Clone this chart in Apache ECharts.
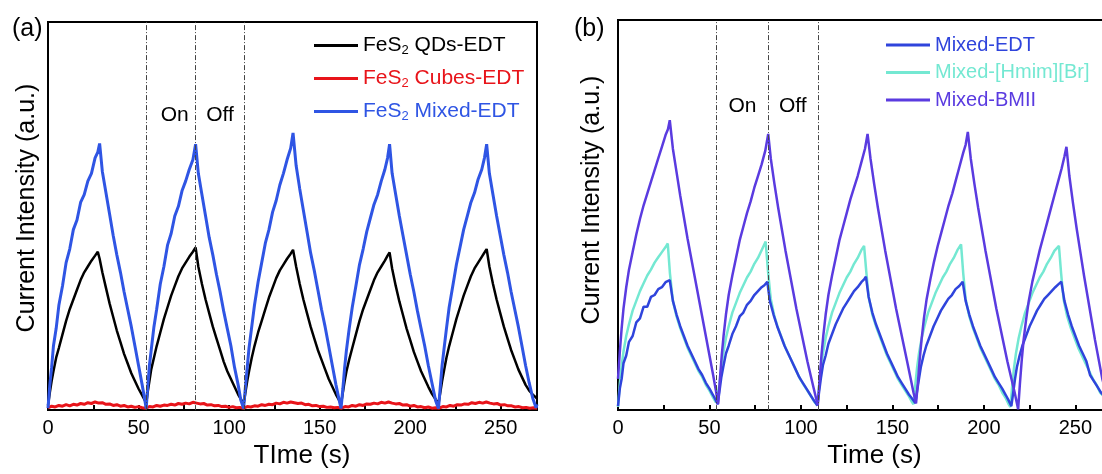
<!DOCTYPE html>
<html>
<head>
<meta charset="utf-8">
<script src="https://cdn.jsdelivr.net/npm/echarts@6/dist/echarts.min.js"></script>
<style>
  html, body { margin: 0; padding: 0; overflow: hidden; background: #fff; }
  #main { width: 1140px; height: 474px; }
</style>
</head>
<body>
<div id="main"></div>
<script>
// ---- panel (a): [time (s), current intensity (a.u.)] ----
var qdsA = [
  [0,1.2],[1,4.5],[2,7.5],[3,10],[4.5,13.5],[6,16],[8,19.5],[10,23],[12,26],[14,28.5],[16,31],[18,33.5],[20,35.5],[22,37],[24,38.5],[26,39.8],[27.5,40.8],[28.5,39],
  [30,35.5],[32,31.5],[34,27.5],[36,24],[38,20.5],[40,17.5],[42,14.5],[44,12],[46,9.5],[48,7.5],[50,5.5],[52,3.8],[53.5,2.5],[54.2,1.5],
  [55,4.5],[56,7.5],[57,10.5],[58.5,13.5],[60,16.5],[62,20],[64,23.5],[66,26.5],[68,29.5],[70,32],[72,34.5],[74,36.5],[76,38],[78,39.5],[80,40.8],[81.5,41.9],
  [83,37],[85,32.5],[87,28.5],[89,25],[91,21.5],[93,18.5],[95,15.5],[97,12.5],[99,10],[101,8],[103,6],[105,4],[106.5,2.8],[108,1.6],
  [109,4.5],[110,7.5],[111,10],[112.5,13.5],[114,16.5],[116,20],[118,23],[120,26],[122,29],[124,31.5],[126,34],[128,36],[130,37.5],[132,39],[134,40.3],[135.3,41.3],
  [137,37],[139,32.5],[141,28.5],[143,25],[145,21.5],[147,18.5],[149,15.5],[151,13],[153,10.5],[155,8],[157,6],[159,4],[160.8,2.5],[161.8,1.6],
  [162.8,4.5],[163.8,7.5],[164.8,10],[166.3,13],[168,16],[170,19.5],[172,23],[174,26],[176,28.5],[178,31],[180,33.5],[182,35.5],[184,37],[186,38.5],[187.5,39.8],[188.6,40.6],
  [190,36.5],[192,32],[194,28],[196,24.5],[198,21],[200,18],[202,15],[204,12.5],[206,10],[208,8],[210,6],[212,4.2],[214,2.8],[215.6,1.6],
  [216.6,4.5],[217.6,7.5],[218.6,10],[220,13.5],[221.5,16.5],[223.5,20],[225.5,23.5],[227.5,26.5],[229.5,29.5],[231.5,32],[233.5,34.5],[235.5,36.5],[237.5,38],[239.5,39.5],[241,40.6],[242.2,41.5],
  [243.7,37],[245.7,32.5],[247.7,28.5],[249.7,25],[251.7,21.5],[253.7,18.5],[255.7,15.5],[257.7,13],[259.7,10.5],[261.7,8.5],[263.7,6.5],[265.7,5],[267.7,4],[269.5,3.2],[270,3]
];
var cubesA = [
  [0,0.6],[2,1.0],[4,0.8],[6,1.2],[8,1.0],[10,1.4],[12,1.1],[14,1.5],[16,1.3],[18,1.7],[20,1.5],[22,1.9],[24,1.7],[26,2.1],[28,1.8],[30,1.9],[32,1.5],[34,1.6],[36,1.2],[38,1.4],[40,1.0],[42,1.2],[44,0.8],[46,1.0],[48,0.7],[50,0.9],[52,0.6],[54,0.5],
  [56,0.9],[58,0.8],[60,1.2],[62,1.0],[64,1.3],[66,1.2],[68,1.5],[70,1.3],[72,1.7],[74,1.5],[76,1.8],[78,1.6],[80,2.0],[82,1.8],[84,1.6],[86,1.7],[88,1.3],[90,1.4],[92,1.1],[94,1.2],[96,0.9],[98,1.0],[100,0.7],[102,0.9],[104,0.6],[106,0.7],[108,0.5],
  [110,0.9],[112,0.8],[114,1.1],[116,1.0],[118,1.4],[120,1.2],[122,1.5],[124,1.4],[126,1.8],[128,1.6],[130,2.0],[132,1.8],[134,2.1],[136,1.9],[138,1.7],[140,1.8],[142,1.4],[144,1.5],[146,1.1],[148,1.2],[150,0.9],[152,1.0],[154,0.7],[156,0.8],[158,0.6],[160,0.7],[162,0.5],
  [164,0.9],[166,0.8],[168,1.2],[170,1.0],[172,1.4],[174,1.2],[176,1.6],[178,1.5],[180,1.8],[182,1.6],[184,2.0],[186,1.8],[188,2.1],[190,1.8],[192,1.6],[194,1.7],[196,1.3],[198,1.4],[200,1.0],[202,1.2],[204,0.8],[206,0.9],[208,0.6],[210,0.8],[212,0.5],[214,0.6],[216,0.5],
  [218,0.9],[220,0.8],[222,1.2],[224,1.0],[226,1.4],[228,1.3],[230,1.6],[232,1.5],[234,1.9],[236,1.7],[238,2.0],[240,1.8],[242,2.1],[244,1.8],[246,1.6],[248,1.7],[250,1.3],[252,1.4],[254,1.1],[256,1.1],[258,0.8],[260,0.9],[262,0.6],[264,0.7],[266,0.5],[268,0.6],[270,0.5]
];
var mixedA = [
  [0,0.5],[1,6.5],[2,11],[3,16.5],[4.5,21],[6,27],[8,32],[10,38],[12,41.5],[14,46.5],[16,49],[18,53.5],[20,55.5],[22,59],[24,61],[26,65],[27.5,66.5],[28.5,68.7],
  [30,61.5],[32,56],[34,50.5],[36,45],[38,40],[40,35.5],[42,30.5],[44,26],[46,21.5],[48,16.5],[50,11.5],[52,6.5],[53.5,2.5],[54.2,0.4],
  [55,5.5],[56,11.5],[57,15.5],[58.5,21.5],[60,26],[62,32.5],[64,37],[66,42.5],[68,45.5],[70,50],[72,52.5],[74,56.5],[76,59],[78,62],[80,64.5],[81.5,68.5],
  [83,61],[85,55.5],[87,50],[89,44.5],[91,40],[93,35],[95,30.5],[97,25.5],[99,21],[101,16.5],[103,11],[105,6.5],[106.5,2.5],[108,0.4],
  [109,6],[110,11],[111,16],[112.5,21.5],[114,27],[116,33],[118,38],[120,43],[122,46.5],[124,51],[126,54],[128,58],[130,61],[132,64.5],[134,67.5],[135.3,71.4],
  [137,63],[139,57],[141,51.5],[143,46],[145,40.5],[147,36],[149,31],[151,26],[153,21.5],[155,16.5],[157,11.5],[159,6.5],[160.8,2.5],[161.8,0.4],
  [162.8,5.5],[163.8,11],[164.8,15.5],[166.3,21],[168,26.5],[170,32],[172,37.5],[174,41.5],[176,46],[178,49.5],[180,53],[182,55.5],[184,59],[186,62],[187.5,65],[188.6,68.5],
  [190,61],[192,55.5],[194,50],[196,45],[198,40],[200,35],[202,30.5],[204,25.5],[206,21],[208,16.5],[210,11.5],[212,7],[214,2.5],[215.6,0.4],
  [216.6,6],[217.6,11.5],[218.6,15.5],[220,21],[221.5,26.5],[223.5,32],[225.5,37.5],[227.5,42],[229.5,46.5],[231.5,50],[233.5,53.5],[235.5,56],[237.5,59.5],[239.5,62],[241,65],[242.2,68.5],
  [243.7,61],[245.7,55.5],[247.7,50],[249.7,45],[251.7,40],[253.7,35.5],[255.7,30.5],[257.7,26],[259.7,21.5],[261.7,16.5],[263.7,11.5],[265.7,7],[267.7,3],[269.5,0.6],[270,1.5]
];

// ---- panel (b) ----
var edtB = [
  [0,1],[1,5.5],[2,8],[3,12],[4.5,14],[6,17.5],[8,19],[10,22.5],[12,23.5],[14,26.5],[16,26.5],[18,29],[20,29.5],[22,31],[24,31.5],[26,32.8],[28.3,33.3],
  [30,28],[32,24.5],[34,21.5],[36,19],[38,16.5],[40,14.5],[42,12.5],[44,10.5],[46,9],[48,7],[50,5.5],[52,3.8],[53.5,2.5],[54.5,1.5],
  [55.5,5],[56.5,8.5],[57.5,11],[59,14.5],[60.5,16.5],[62.5,19.5],[64.5,21.5],[66.5,24],[68.5,25],[70.5,27],[72.5,28],[74.5,29.5],[76.5,30.5],[78.5,31.5],[80,32],[81.6,32.9],
  [83,28],[85,24.5],[87,21.5],[89,19],[91,16.5],[93,14.5],[95,12.5],[97,10.5],[99,8.5],[101,7],[103,5.5],[105,4],[107,2.5],[109,1.2],
  [110,5],[111,8.5],[112,11.5],[113.5,14],[115,17],[117,19.5],[119,22],[121,24],[123,26],[125,27.5],[127,29],[129,30.5],[131,31.5],[133,32.8],[134.5,33.5],[135.5,34.2],
  [137,29],[139,25],[141,22],[143,19.5],[145,17],[147,14.5],[149,12.5],[151,10.5],[153,8.5],[155,7],[157,5.5],[159,4],[161,2.8],[162.5,1.8],
  [163.5,5],[164.5,8],[165.5,11],[167,14],[168.5,16.5],[170.5,19],[172.5,21.5],[174.5,23.5],[176.5,25.5],[178.5,27],[180.5,28.5],[182.5,29.5],[184.5,31],[186.5,31.8],[188.4,32.9],
  [190,28],[192,24.5],[194,21.5],[196,19],[198,16.5],[200,14.5],[202,12.5],[204,10.5],[206,8.5],[208,7],[210,5.5],[212,3.8],[213.5,2.5],[215,1],
  [216,4.5],[217,8],[218,11],[219.5,14],[221,16.5],[223,19],[225,21.5],[227,23.5],[229,25.5],[231,27],[233,28.5],[235,29.5],[237,30.5],[239,31.5],[240.8,32.3],[242.3,32.9],
  [244,28],[246,24.5],[248,21.5],[250,19],[252,16.5],[254,14.5],[256,12.5],[258,9],[260,7.5],[262,6],[264,4.5],[266,3.5],[268,2.5],[270,1.5]
];
var hmimB = [
  [0,0.8],[1,7],[2,11.5],[3,15],[4.5,19],[6,22],[8,25.5],[10,28],[12,30.5],[14,32.5],[16,34.5],[18,36],[20,37.8],[22,39.2],[24,40.5],[26,41.8],[27.2,42.7],[28.4,35],
  [30,28],[32,24],[34,21],[36,18.5],[38,16],[40,14],[42,12],[44,10],[46,8.5],[48,6.5],[50,5],[52,3.2],[53.5,2],[54.5,1.5],
  [55.5,6.5],[56.5,11],[57.5,14.5],[59,18.5],[60.5,21.5],[62.5,25],[64.5,27.5],[66.5,30],[68.5,32],[70.5,34],[72.5,35.5],[74.5,37.5],[76.5,39],[78.5,41],[80.7,43.2],[82,35.5],
  [83.5,28.5],[85.5,24],[87.5,21],[89.5,18.5],[91.5,16],[93.5,14],[95.5,12],[97.5,10],[99.5,8],[101.5,6.5],[103.5,5],[105.5,3.5],[107.5,2],[109,1.2],
  [110,6.5],[111,11],[112,14.5],[113.5,18.5],[115,21.5],[117,25],[119,27.5],[121,30],[123,32],[125,34],[127,35.5],[129,37.5],[131,39],[133,41],[134.5,42.1],[135.7,35.5],
  [137,29],[139,24.5],[141,21.5],[143,19],[145,16.5],[147,14],[149,12],[151,10],[153,8],[155,6.5],[157,5],[159,3.5],[160.5,2.2],[161.5,1.5],
  [162.5,6.5],[163.5,11],[164.5,14.5],[166,18.5],[167.5,21.5],[169.5,25],[171.5,27.5],[173.5,30],[175.5,32],[177.5,34],[179.5,35.5],[181.5,37.5],[183.5,39],[185.5,41],[187.5,42.5],[188.7,35],
  [190,28.5],[192,24],[194,21],[196,18.5],[198,16],[200,14],[202,12],[204,10],[206,8],[208,6.5],[210,4.5],[212,3],[213.5,1.5],[214.5,0.8],
  [215.5,6.5],[216.5,11],[217.5,14.5],[219,18.5],[220.5,21.5],[222.5,25],[224.5,27.5],[226.5,30],[228.5,32],[230.5,34],[232.5,35.5],[234.5,37.5],[236.5,39],[238.5,40.8],[241,42.1],[242.2,35],
  [243.5,28.5],[245.5,24],[247.5,21],[249.5,18.5],[251.5,16],[253.5,14],[255.5,12],[257.5,10],[259.5,8],[261.5,6.5],[263.5,4.5],[265.5,3.5],[267.5,2.5],[270,1.5]
];
var bmiiB = [
  [0,8],[1,15],[2,21],[3,26],[4.5,31.5],[6,36],[8,40.5],[10,45],[12,49],[14,52.5],[16,55.5],[18,58.5],[20,61.5],[22,64.5],[24,67.5],[26,70.5],[27.3,72],[28.3,74.3],
  [30,67],[32,61],[34,55],[36,49.5],[38,44],[40,39],[42,34],[44,29],[46,24],[48,19],[50,14],[52,9],[53.5,5],[54.7,1.5],
  [55.7,8],[56.7,14],[57.7,19],[59,24.5],[60.5,29.5],[62.5,34.5],[64.5,39],[66.5,43.5],[68.5,47],[70.5,50.5],[72.5,53.5],[74.5,57],[76.5,60],[78.5,63],[80.5,66.5],[82.1,70.8],
  [83.5,64.5],[85.5,58],[87.5,52],[89.5,46.5],[91.5,41],[93.5,36],[95.5,31],[97.5,26],[99.5,21.5],[101.5,17],[103.5,12.5],[105.5,8.5],[107.5,4.5],[109.2,1.2],
  [110.2,8],[111.2,14],[112.2,19],[113.5,24.5],[115,29.5],[117,34.5],[119,39],[121,43.5],[123,47],[125,50.5],[127,54],[129,57],[131,60],[133,63.5],[135,67],[136.4,70.8],
  [138,64.5],[140,58],[142,52],[144,46.5],[146,41],[148,36],[150,31],[152,26],[154,21.5],[156,17],[158,12.5],[160,8],[161.5,4.5],[162.9,1.7],
  [163.9,7],[164.9,13],[165.9,18],[167.2,23.5],[168.7,28.5],[170.7,33.5],[172.7,38],[174.7,42],[176.7,45.5],[178.7,49],[180.7,52.5],[182.7,55.5],[184.7,59],[186.7,62.5],[188.7,66],[190,68],[191.2,71.3],
  [192.8,64.5],[194.8,58],[196.8,52],[198.8,46.5],[200.8,41],[202.8,36],[204.8,31],[206.8,26],[208.8,21.5],[210.8,17],[212.8,12.5],[214.8,8.5],[216.8,4.5],[218.7,0.2],
  [219.7,7],[220.7,13],[221.7,18],[223,23],[224.5,28],[226.5,33],[228.5,37],[230.5,41],[232.5,44.5],[234.5,48],[236.5,51.5],[238.5,55],[240.5,58.5],[242.5,62],[244,65],[245.1,67.5],
  [246.7,60],[248.7,53],[250.7,46.5],[252.7,40.5],[254.7,34.5],[256.7,29],[258.7,23.5],[260.7,18],[262.7,13],[264.7,8],[266.7,4.5],[268.7,2],[270,1]
];

// light on/off switching marks (s) and annotation spots [label, time, intensity]
var switchA = [54.1, 81.2, 108.1];
var switchB = [53.5, 82, 109.5];
var onOffA = [['On', 70, 76], ['Off', 95, 76]];
var onOffB = [['On', 68, 78], ['Off', 95.5, 78]];

var FONT = 'Liberation Sans, Arial, sans-serif';
var chart = echarts.init(document.getElementById('main'));

function xAxisOf(idx, name, gap, shift) {
  return {
    gridIndex: idx, type: 'value', min: 0, max: 270, interval: 25,
    name: name, nameLocation: 'middle', nameGap: gap,
    nameTextStyle: { fontSize: 26, color: '#000', fontFamily: FONT, padding: [0, 0, 0, shift] },
    axisLine: { lineStyle: { color: '#000', width: 2 } },
    axisTick: { inside: true, length: 5, lineStyle: { color: '#000', width: 2 } },
    axisLabel: {
      margin: 8, fontSize: 20, color: '#000', fontFamily: FONT,
      formatter: function (v) { return v % 50 === 0 ? String(v) : ''; }
    },
    splitLine: { show: false }
  };
}
function yAxisOf(idx, gap, shift) {
  return {
    gridIndex: idx, type: 'value', min: 0, max: 100,
    name: 'Current Intensity (a.u.)', nameLocation: 'middle', nameGap: gap,
    nameTextStyle: { fontSize: 25, color: '#000', fontFamily: FONT, padding: [0, 0, 0, shift] },
    axisLine: { show: true, lineStyle: { color: '#000', width: 2 } },
    axisTick: { show: false }, axisLabel: { show: false }, splitLine: { show: false }
  };
}
function switchLines(list) {
  return {
    silent: true, symbol: ['none', 'none'],
    lineStyle: { type: [5, 2, 1, 2], color: '#444', width: 1 },
    label: { show: false },
    data: list.map(function (t) { return { xAxis: t }; })
  };
}
function onOff(list) {
  return {
    silent: true, symbol: 'circle', symbolSize: 1,
    itemStyle: { color: 'rgba(0,0,0,0)' },
    label: { show: true, position: 'inside', formatter: '{b}', color: '#000', fontSize: 21, fontFamily: FONT },
    data: list.map(function (d) { return { name: d[0], coord: [d[1], d[2]] }; })
  };
}
function line(name, data, idx, color, width, extra) {
  var s = {
    name: name, type: 'line', data: data, xAxisIndex: idx, yAxisIndex: idx,
    symbol: 'none', color: color, lineStyle: { color: color, width: width }
  };
  for (var k in extra) s[k] = extra[k];
  return s;
}

var option = {
  animation: false,
  backgroundColor: '#fff',
  textStyle: { fontFamily: FONT },
  grid: [
    { left: 48, top: 22, width: 489, height: 395, show: true, borderColor: '#000', borderWidth: 2 },
    { left: 618, top: 20, width: 494, height: 400, show: true, borderColor: '#000', borderWidth: 2 }
  ],
  xAxis: [xAxisOf(0, 'TIme (s)', 30, 19), xAxisOf(1, 'Time (s)', 26, 19)],
  yAxis: [yAxisOf(0, 8, 16), yAxisOf(1, 13, 30)],
  legend: [
    {
      data: [
        { name: 'FeS2 QDs-EDT', textStyle: { color: '#000' } },
        { name: 'FeS2 Cubes-EDT', textStyle: { color: '#e8141a' } },
        { name: 'FeS2 Mixed-EDT', textStyle: { color: '#2f55e4' } }
      ],
      orient: 'vertical', left: 309, top: 30, icon: 'rect', itemWidth: 44, itemHeight: 3, itemGap: 11.5,
      selectedMode: false,
      formatter: function (n) { return '{t|FeS}{s|2}{t|' + n.slice(4) + '}'; },
      textStyle: {
        fontFamily: FONT, fontSize: 21,
        rich: {
          t: { fontSize: 21, lineHeight: 22, fontFamily: FONT },
          s: { fontSize: 13, lineHeight: 22, verticalAlign: 'bottom', fontFamily: FONT }
        }
      }
    },
    {
      data: [
        { name: 'Mixed-EDT', textStyle: { color: '#2f44dc' } },
        { name: 'Mixed-[Hmim][Br]', textStyle: { color: '#74e8d2' } },
        { name: 'Mixed-BMII', textStyle: { color: '#5a3be0' } }
      ],
      orient: 'vertical', left: 881, top: 30, icon: 'rect', itemWidth: 44, itemHeight: 3, itemGap: 7.5,
      selectedMode: false,
      textStyle: { fontFamily: FONT, fontSize: 20, lineHeight: 20 }
    }
  ],
  graphic: [
    { type: 'text', left: 12, top: 17, style: { text: '(a)', fontSize: 25, fill: '#000', fontFamily: FONT } },
    { type: 'text', left: 574, top: 17, style: { text: '(b)', fontSize: 25, fill: '#000', fontFamily: FONT } }
  ],
  series: [
    line('FeS2 QDs-EDT', qdsA, 0, '#000000', 2.5, {}),
    line('FeS2 Cubes-EDT', cubesA, 0, '#e8141a', 3, { markLine: switchLines(switchA), markPoint: onOff(onOffA) }),
    line('FeS2 Mixed-EDT', mixedA, 0, '#2f55e4', 3, {}),
    line('Mixed-[Hmim][Br]', hmimB, 1, '#74e8d2', 2.5, { markLine: switchLines(switchB), markPoint: onOff(onOffB) }),
    line('Mixed-EDT', edtB, 1, '#2f44dc', 2.5, {}),
    line('Mixed-BMII', bmiiB, 1, '#5a3be0', 2.5, {})
  ]
};
chart.setOption(option);
</script>
</body>
</html>
